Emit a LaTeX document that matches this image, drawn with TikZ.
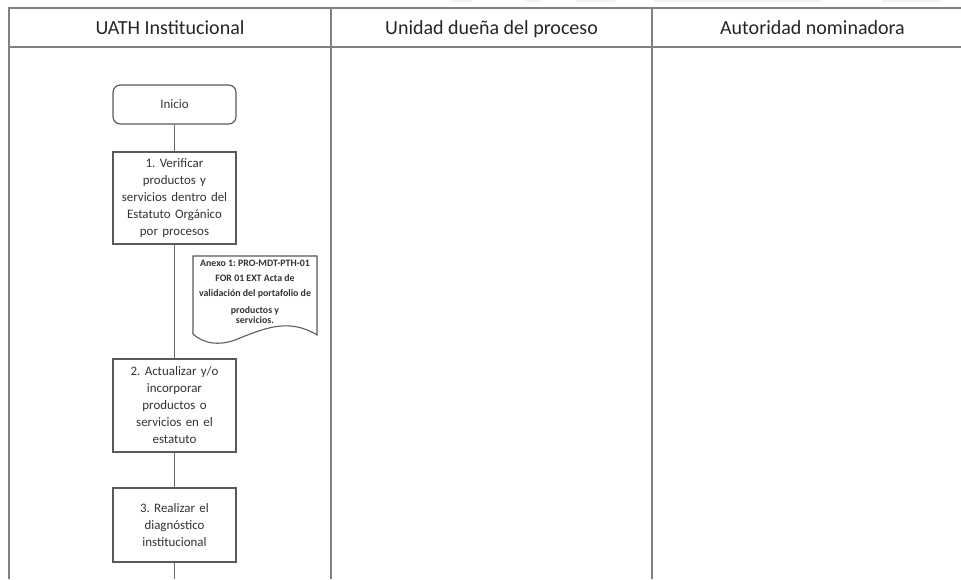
\documentclass[tikz,border=0pt]{standalone}
\usepackage{fontspec}
\setmainfont{Carlito}
\frenchspacing
\begin{document}
\begin{tikzpicture}[x=0.75pt,y=-0.75pt,
  lane/.style={draw=black!50,line width=1.3pt},
  lanehead/.style={font=\fontsize{15}{18}\selectfont,text=black!85,anchor=base},
  stepbox/.style={draw=black!65,line width=0.9pt,fill=white,minimum width=92.25pt,
    text width=84pt,align=center,inner sep=0pt,text=black!80,
    font=\fontsize{9.7}{12.75}\selectfont},
  flow/.style={draw=black!60,line width=1pt},
  ghost/.style={fill=black!5,draw=none}]
\useasboundingbox (0,0) rectangle (961,579);
\fill[white] (0,0) rectangle (961,579);

% faint edge of the preceding page
\fill[ghost] (452,0) rectangle (472,2);
\fill[ghost] (525,0) rectangle (540,2);
\fill[ghost] (576,0) rectangle (615,2);
\fill[ghost] (654,0) rectangle (821,2);
\fill[ghost] (882,0) rectangle (940,2);

% swimlane table
\draw[lane] (961,8) -- (9,8) -- (9,579);
\draw[lane] (9,47) -- (961,47);
\draw[lane] (331,8) -- (331,579);
\draw[lane] (652,8) -- (652,579);

\node[lanehead] (h1) at (170,34) {UATH Institucional};
\node[lanehead] (h2) at (491.5,34) {Unidad dueña del proceso};
\node[lanehead] (h3) at (812.5,34) {Autoridad nominadora};

% process steps
\node[stepbox,rounded corners=5.5pt,minimum height=29.25pt] (inicio) at (174.5,104.5) {Inicio};
\node[stepbox,minimum height=69pt] (s1) at (174.5,198) {1. Verificar\\productos y\\servicios dentro del\\Estatuto Orgánico\\por procesos};
\node[stepbox,minimum height=69.75pt] (s2) at (174.5,405.5) {2. Actualizar y/o\\incorporar\\productos o\\servicios en el\\estatuto};
\node[stepbox,minimum height=55.5pt] (s3) at (174.5,525) {3. Realizar el\\diagnóstico\\institucional};
\coordinate (fin) at (174.5,579);

% attached document
\draw[draw=black!65,line width=0.8pt,fill=white]
  (193,256) -- (317,256) -- (317,335)
  .. controls (290,318) and (265,328) .. (240,338)
  .. controls (222,346) and (205,345) .. (193,334) -- cycle;
\node[align=center,inner sep=0pt,text=black!80,
  font=\bfseries\fontsize{7.4}{11.25}\selectfont] (anexo) at (255,292)
  {Anexo 1: PRO-MDT-PTH-01\\FOR 01 EXT Acta de\\validación del portafolio de\\[1pt]productos y\\[-3.5pt]servicios.};

% connectors
\draw[flow] (inicio) -- (s1);
\draw[flow] (s1) -- (s2);
\draw[flow] (s2) -- (s3);
\draw[flow] (s3) -- (fin);
\end{tikzpicture}
\end{document}
